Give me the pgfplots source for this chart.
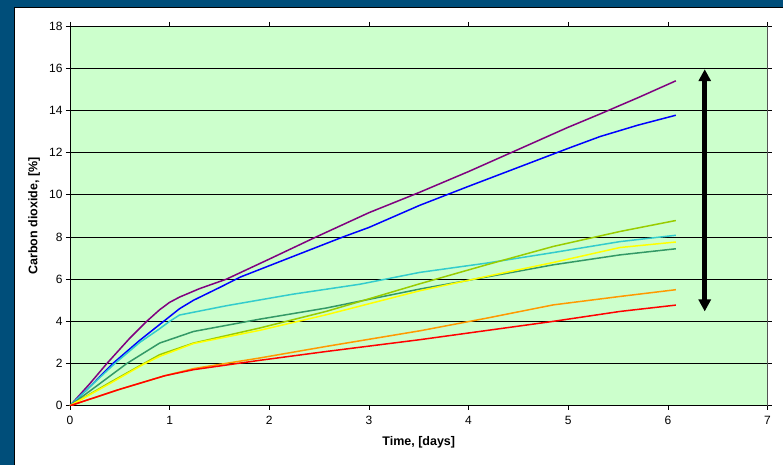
\documentclass[border=0pt]{standalone}
\usepackage{pgfplots}
\pgfplotsset{compat=1.18}
\usepackage{fontspec}
\setmainfont{Liberation Sans}
\usetikzlibrary{arrows.meta}
\definecolor{framebg}{RGB}{0,78,122}
\definecolor{plotbg}{RGB}{204,255,204}
\definecolor{cpurple}{RGB}{128,0,128}
\definecolor{cblue}{RGB}{0,0,255}
\definecolor{ccyan}{RGB}{51,204,204}
\definecolor{cdgreen}{RGB}{51,153,102}
\definecolor{cygreen}{RGB}{153,204,0}
\definecolor{cyellow}{RGB}{255,255,0}
\definecolor{corange}{RGB}{255,153,0}
\definecolor{cred}{RGB}{255,0,0}
\begin{document}
\begin{tikzpicture}[x=1pt,y=1pt]
\fill[framebg] (0,0) rectangle (783,465);
\fill[white] (14,0) rectangle (783,458);
\draw[black, line width=1pt] (14.5,0) -- (14.5,457.5) -- (783,457.5);
\begin{axis}[
  at={(70pt,59pt)}, anchor=south west,
  scale only axis, width=698pt, height=380pt,
  xmin=0, xmax=7, ymin=0, ymax=18,
  xtick={0,1,...,7}, ytick={0,2,...,18},
  ymajorgrids, grid style={black, line width=0.6pt},
  axis background/.style={fill=plotbg},
  tick align=outside, major tick length=4pt,
  tick style={black, line width=0.6pt},
  axis line style={black, line width=0.8pt},
  ticklabel style={font=\fontsize{12}{14}\selectfont},
  xticklabel style={yshift=-3pt},
  /pgf/number format/assume math mode=true,
  xlabel={Time, [days]}, ylabel={Carbon dioxide, [\%]},
  label style={font=\bfseries\fontsize{12.5}{14}\selectfont},
  xlabel style={at={(axis description cs:0.5,-0.0974)}, anchor=center},
  ylabel style={at={(axis description cs:-0.0515,0.5)}, anchor=center},
  every axis plot/.append style={line width=1.5pt, no markers, line join=round},
]
\addplot[cpurple] coordinates {(0,0) (0.2,1.05) (0.37,2.0) (0.6,3.2) (0.77,4.0) (0.9,4.55) (1.0,4.9) (1.1,5.15) (1.3,5.55) (1.57,6.0) (2.0,6.95) (2.47,8.0) (3.0,9.15) (3.5,10.1) (4.0,11.1) (4.5,12.15) (5.0,13.2) (5.32,13.83) (5.7,14.6) (6.08,15.4)};
\addplot[cblue] coordinates {(0,0) (0.2,0.9) (0.43,2.0) (0.7,3.1) (0.94,4.0) (1.1,4.6) (1.24,5.0) (1.5,5.6) (1.71,6.1) (2.17,6.95) (2.74,8.0) (3.0,8.45) (3.51,9.5) (4.0,10.4) (4.5,11.3) (5.0,12.2) (5.32,12.76) (5.7,13.3) (6.08,13.77)};
\addplot[ccyan] coordinates {(0,0) (0.2,0.9) (0.45,2.0) (0.7,3.0) (0.9,3.65) (1.0,4.0) (1.1,4.3) (1.57,4.74) (2.24,5.29) (2.91,5.76) (3.51,6.32) (4.18,6.76) (4.85,7.26) (5.52,7.78) (6.08,8.08)};
\addplot[cdgreen] coordinates {(0,0) (0.3,1.05) (0.57,2.0) (0.9,2.97) (1.24,3.52) (1.9,4.1) (2.57,4.63) (3.51,5.53) (4.18,6.1) (4.85,6.68) (5.52,7.15) (6.08,7.44)};
\addplot[cygreen] coordinates {(0,0) (0.4,1.1) (0.74,2.0) (0.9,2.42) (1.24,2.97) (1.9,3.68) (2.57,4.47) (2.91,4.94) (3.51,5.78) (4.18,6.68) (4.85,7.55) (5.52,8.26) (6.08,8.78)};
\addplot[cyellow] coordinates {(0,0) (0.4,1.05) (0.74,1.97) (0.9,2.34) (1.24,2.95) (1.9,3.57) (2.57,4.31) (3.51,5.45) (4.18,6.13) (4.85,6.79) (5.52,7.5) (6.08,7.76)};
\addplot[corange] coordinates {(0,0) (0.5,0.78) (0.95,1.42) (1.24,1.76) (1.9,2.26) (2.57,2.81) (3.51,3.55) (4.18,4.15) (4.85,4.78) (5.52,5.18) (6.08,5.5)};
\addplot[cred] coordinates {(0,0) (0.5,0.78) (0.95,1.42) (1.24,1.71) (1.9,2.15) (2.57,2.57) (3.51,3.13) (4.28,3.63) (4.85,4.0) (5.52,4.47) (6.08,4.77)};
\draw[black, line width=4.5pt, {Triangle[width=12pt,length=12pt]}-{Triangle[width=12pt,length=12pt]}] (axis cs:6.37,4.47) -- (axis cs:6.37,15.95);
\draw[gray, line width=1.5pt] (rel axis cs:1,0) -- (rel axis cs:1,1);
\end{axis}
\end{tikzpicture}
\end{document}
